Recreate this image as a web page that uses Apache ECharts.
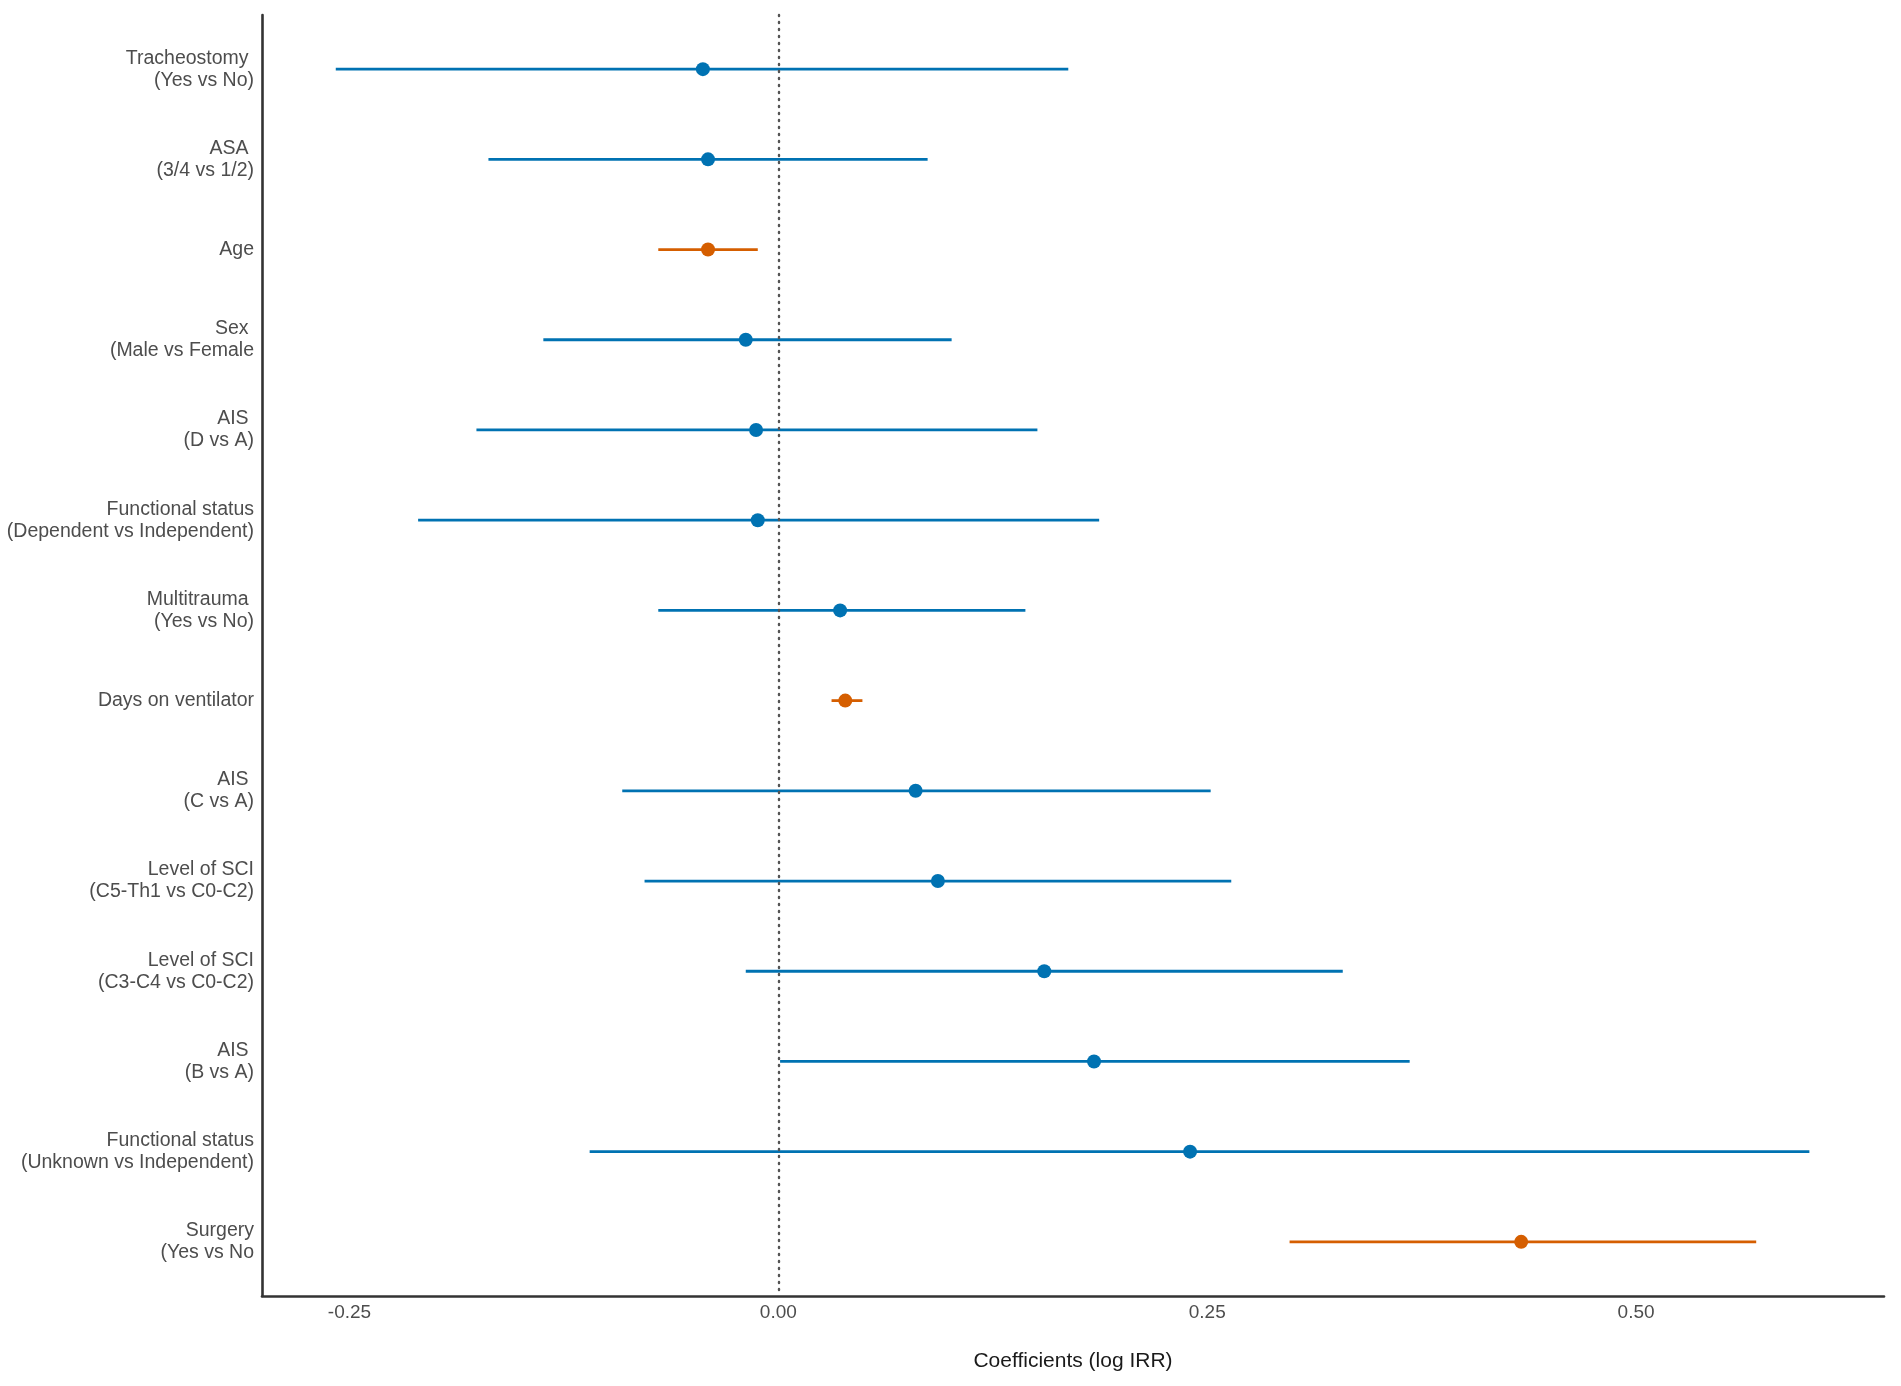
<!DOCTYPE html>
<html>
<head>
<meta charset="utf-8">
<title>Coefficients (log IRR)</title>
<script src="https://cdn.jsdelivr.net/npm/echarts@6.0.0/dist/echarts.min.js"></script>
<style>
  html, body { margin: 0; padding: 0; background: #fff; }
  #forest { width: 1901px; height: 1386px; }
</style>
</head>
<body>
<div id="forest"></div>
<script>
/***
 * forest plot --- coefficients (log IRR)
 */

// row labels, top to bottom
var labels = [
    'Tracheostomy \n(Yes vs No)',
    'ASA \n(3/4 vs 1/2)',
    'Age',
    'Sex \n(Male vs Female',
    'AIS \n(D vs A)',
    'Functional status\n(Dependent vs Independent)',
    'Multitrauma \n(Yes vs No)',
    'Days on ventilator',
    'AIS \n(C vs A)',
    'Level of SCI\n(C5-Th1 vs C0-C2)',
    'Level of SCI\n(C3-C4 vs C0-C2)',
    'AIS \n(B vs A)',
    'Functional status\n(Unknown vs Independent)',
    'Surgery\n(Yes vs No'
];
var estimate = [-0.044, -0.041, -0.041, -0.019, -0.013, -0.012, 0.036, 0.039, 0.080, 0.093, 0.155, 0.184, 0.240, 0.433];
var lower    = [-0.258, -0.169, -0.070, -0.137, -0.176, -0.210, -0.070, 0.031, -0.091, -0.078, -0.019, 0.001, -0.110, 0.298];
var upper    = [0.169, 0.087, -0.012, 0.101, 0.151, 0.187, 0.144, 0.049, 0.252, 0.264, 0.329, 0.368, 0.601, 0.570];
var significant = [0, 0, 1, 0, 0, 0, 0, 1, 0, 0, 0, 0, 0, 1];
var xTicks = [-0.25, 0, 0.25, 0.5];
var xRange = [-0.301, 0.6445];

var blue = '#0072B2';
var orange = '#D55E00';
var rowPos = [];
var ciData = [];
var pointData = [];
for (var i = 0; i < labels.length; i++) {
    rowPos.push(i + 1);
    ciData.push([lower[i], upper[i], i + 1]);
    pointData.push([estimate[i], i + 1]);
}

function rowColor(idx) {
    return significant[idx] ? orange : blue;
}

// horizontal confidence interval segment
function renderCI(params, api) {
    var start = api.coord([api.value(0), api.value(2)]);
    var end = api.coord([api.value(1), api.value(2)]);
    return {
        type: 'line',
        shape: { x1: start[0], y1: start[1], x2: end[0], y2: end[1] },
        style: { stroke: rowColor(params.dataIndex), lineWidth: 2.8 }
    };
}

var myChart = echarts.init(document.getElementById('forest'));
window.onresize = myChart.resize;

option = {
    backgroundColor: '#ffffff',
    animation: false,
    textStyle: { fontFamily: 'Liberation Sans' },
    grid: {
        left: 262,
        right: 17,
        top: 15,
        bottom: 90
    },
    xAxis: {
        type: 'value',
        min: xRange[0],
        max: xRange[1],
        name: 'Coefficients (log IRR)',
        nameLocation: 'middle',
        nameGap: 55,
        nameTextStyle: { fontSize: 21, color: '#1a1a1a', fontFamily: 'Liberation Sans' },
        axisLine: { show: true, onZero: false, lineStyle: { color: '#333333', width: 2.6 } },
        axisTick: { show: false },
        splitLine: { show: false },
        axisLabel: {
            customValues: xTicks,
            fontSize: 19,
            color: '#4d4d4d',
            margin: 7,
            formatter: function (v) {
                return v.toFixed(2);
            }
        }
    },
    yAxis: {
        type: 'value',
        inverse: true,
        min: 0.4,
        max: 14.6,
        axisLine: { show: true, onZero: false, lineStyle: { color: '#333333', width: 2.6 } },
        axisTick: { show: false },
        splitLine: { show: false },
        axisLabel: {
            customValues: rowPos,
            fontSize: 19.5,
            lineHeight: 22,
            color: '#4d4d4d',
            margin: 8,
            align: 'right',
            formatter: function (v) {
                return labels[Math.round(v) - 1];
            }
        }
    },
    series: [{
        name: 'CI',
        type: 'custom',
        renderItem: renderCI,
        encode: { x: [0, 1], y: 2 },
        data: ciData,
        silent: true,
        z: 2
    }, {
        name: 'Estimate',
        type: 'scatter',
        symbol: 'circle',
        symbolSize: 14,
        data: pointData,
        silent: true,
        z: 3,
        itemStyle: {
            opacity: 1,
            color: function (params) {
                return rowColor(params.dataIndex);
            }
        },
        markLine: {
            silent: true,
            symbol: ['none', 'none'],
            label: { show: false },
            lineStyle: { color: '#555555', width: 2.4, type: [1, 6], cap: 'round' },
            data: [{ xAxis: 0 }]
        }
    }]
};

myChart.setOption(option);
</script>
</body>
</html>
